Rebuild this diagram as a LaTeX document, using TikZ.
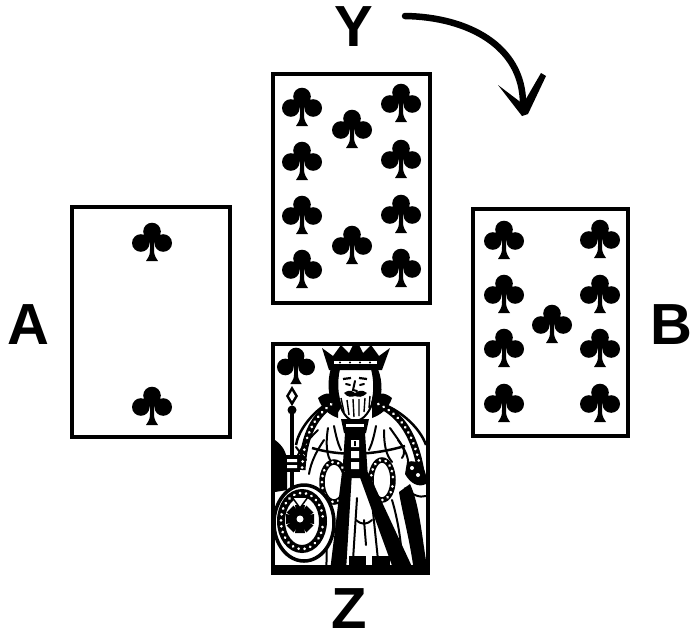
\documentclass[tikz,border=0pt]{standalone}
\usepackage{fontspec}
\setmainfont{Liberation Sans}
\usetikzlibrary{decorations.markings}
\tikzset{
  cardbox/.style={draw=black, line width=3.4pt, fill=white, inner sep=0pt, outer sep=0pt},
  letter/.style={font=\fontsize{58}{58}\selectfont\bfseries, inner sep=0pt},
  kline/.style={line width=2pt, line cap=round},
  arrowline/.style={line width=6.5pt, line cap=round},
  dotband/.style={line width=#1, postaction={decorate, decoration={markings, mark=between positions 0.03 and 0.97 step 6pt with {\fill[white] (0,0) circle (1.5pt);}}}},
  club/.pic={
    \fill (0,-10.5) circle (8.8pt) (-11.2,1) circle (8.8pt) (11.2,1) circle (8.8pt);
    \fill (-6,-4) -- (6,-4) -- (0,4) -- cycle;
    \fill (-2,1) -- (2,1) -- (2,7) .. controls (2.2,13) .. (6,19) -- (-6,19) .. controls (-2.2,13) .. (-2,7) -- cycle;
  }
}
\begin{document}
\begin{tikzpicture}[x=1pt,y=-1pt]
\useasboundingbox (0,0) rectangle (700,643);

% labels
\node[letter] (labA) at (28,325) {A};
\node[letter] (labB) at (671,325) {B};
\node[letter] (labY) at (354,27) {Y};
\node[letter] (labZ) at (349,609) {Z};

% cards
\node[cardbox, minimum width=158pt, minimum height=230pt] (cardA) at (151,322) {};
\node[cardbox, minimum width=157pt, minimum height=229pt] (cardY) at (351.5,188.5) {};
\node[cardbox, minimum width=155pt, minimum height=227pt] (cardB) at (550.5,322.5) {};
\node[cardbox, minimum width=155pt, minimum height=229pt] (cardZ) at (350.5,458.5) {};

% card A clubs
\pic at (152,242) {club};
\pic at (152,406) {club};

% card Y clubs
\pic at (302,107) {club};
\pic at (302,161) {club};
\pic at (302,215) {club};
\pic at (302,269) {club};
\pic at (401,103) {club};
\pic at (401,159) {club};
\pic at (401,214) {club};
\pic at (401,268) {club};
\pic at (352,129) {club};
\pic at (352,245) {club};

% card B clubs
\pic at (504,240) {club};
\pic at (504,294) {club};
\pic at (504,348) {club};
\pic at (504,403) {club};
\pic at (600,239) {club};
\pic at (600,294) {club};
\pic at (600,348) {club};
\pic at (600,403) {club};
\pic at (552,324) {club};

% curved arrow from Y towards B
\coordinate (arrS) at (405,16);
\coordinate (arrE) at (523,104);
\draw[arrowline] (arrS) .. controls (468,17) and (523,46) .. (arrE);
\fill (498,85) -- (523,104) -- (541,73) -- (546,76) -- (528,114) -- (522,116) -- cycle;

% ---------- King (card Z) ----------
\begin{scope}
\clip (275,346) rectangle (426,571);
% club index
\pic[scale=0.95] at (296,366) {club};
% scepter
\fill (292,386) -- (298,396) -- (292,406) -- (286,396) -- cycle;
\fill[white] (292,391) -- (295,396) -- (292,401) -- (289,396) -- cycle;
\fill (292,410) circle (4.5pt);
\draw[line width=3.5pt] (292,412) -- (292,490);
% dark cape behind head
\fill (318,398) .. controls (325,392) and (332,392) .. (338,398) -- (338,418) .. controls (330,415) and (322,410) .. (318,398) -- cycle;
\fill (392,398) .. controls (385,392) and (378,392) .. (372,398) -- (372,418) .. controls (380,415) and (388,410) .. (392,398) -- cycle;
% crown
\fill (322,348) -- (333,356) -- (341,345) -- (349,353) -- (356,339) -- (363,353) -- (371,345) -- (379,356) -- (390,348) -- (382,370) -- (329,370) -- cycle;
\fill[white] (334,361) rectangle (377,364);
\fill (340,362.5) circle (1.2pt) (350,362.5) circle (1.2pt) (360,362.5) circle (1.2pt) (370,362.5) circle (1.2pt);
% hair
\fill (331,368) .. controls (326,385) and (329,402) .. (337,414) -- (342,406) .. controls (338,396) and (337,382) .. (340,369) -- cycle;
\fill (378,369) .. controls (383,382) and (383,397) .. (376,410) -- (371,403) .. controls (374,393) and (374,381) .. (371,369) -- cycle;
% face
\draw[line width=2.2pt] (343,379) -- (351,378) (359,378) -- (367,379);
\draw[kline] (355,381) -- (353,390) -- (357,391);
\draw[kline] (346,384) -- (350,385) (360,385) -- (364,384);
\fill (344,393) .. controls (350,389) and (352,391) .. (355,393) .. controls (358,391) and (362,389) .. (367,393) .. controls (362,398) and (358,397) .. (355,396) .. controls (352,397) and (348,398) .. (344,393) -- cycle;
\draw[line width=1.4pt] (341,398) -- (344,412) (347,400) -- (349,415) (353,399) -- (354,417) (359,399) -- (359,416) (365,398) -- (364,412) (370,396) -- (369,408);
\draw[kline] (338,395) .. controls (340,412) and (348,421) .. (355,421) .. controls (363,421) and (372,411) .. (374,395);
% collar
\fill (341,419) -- (369,419) -- (366,433) -- (344,433) -- cycle;
\fill[white] (346,424) rectangle (364,427);
% cape trims
\draw[dotband=7pt] (333,403) .. controls (316,415) and (304,432) .. (302,470);
\draw[dotband=7pt] (376,403) .. controls (397,412) and (414,430) .. (421,472);
\draw[line width=2.5pt] (325,405) .. controls (310,415) and (298,432) .. (296,445);
\draw[line width=2.5pt] (385,405) .. controls (402,412) and (420,428) .. (426,445);
% sleeves and body outlines
\draw[kline] (318,430) .. controls (308,440) and (300,448) .. (297,458);
\draw[kline] (324,440) .. controls (316,452) and (311,462) .. (309,474);
\draw[kline] (328,428) .. controls (326,440) and (326,452) .. (330,460);
\draw[kline] (334,426) .. controls (336,436) and (338,444) .. (341,450);
\draw[kline] (296,447) -- (306,460);
\draw[kline] (390,428) .. controls (402,445) and (410,455) .. (408,468);
\draw[kline] (384,430) .. controls (384,445) and (386,455) .. (392,462);
\draw[kline] (376,426) .. controls (374,436) and (372,444) .. (369,450);
\draw[kline] (398,440) .. controls (404,448) and (406,452) .. (402,458);
\draw[line width=2.5pt] (312,448) .. controls (340,456) and (370,456) .. (405,446);
\fill (407,462) .. controls (420,458) and (428,470) .. (426,484) .. controls (418,488) and (410,483) .. (405,474) -- cycle;
\fill[white] (412,468) circle (2pt) (418,475) circle (2pt);
\fill (275,440) .. controls (282,445) and (287,452) .. (287,462) -- (287,490) -- (275,492) -- cycle;
\fill (283,455) rectangle (300,472);
\fill[white] (287,459) rectangle (297,462) (287,465) rectangle (297,468);
% central front stripe
\fill (345,433) -- (365,433) -- (368,478) -- (342,478) -- cycle;
\fill[white] (351,440) rectangle (359,447) (351,451) rectangle (359,458) (351,462) rectangle (359,469);
\fill (354,441) rectangle (356,446);
% medallions
\draw[dotband=5.5pt] (334,482) ellipse [x radius=12pt, y radius=20pt];
\draw[dotband=5.5pt] (382,480) ellipse [x radius=11pt, y radius=20pt];
% robe opening
\fill (342,472) -- (352,472) -- (346,571) -- (330,571) -- cycle;
\fill (358,472) -- (368,472) -- (414,571) -- (394,571) -- cycle;
% legs and shoes
\draw[kline] (357,498) -- (353,560) (372,502) -- (378,560) (364,520) -- (366,545);
\draw[kline] (356,520) .. controls (362,525) and (366,525) .. (372,520);
\fill (349,556) rectangle (366,571);
\fill (372,556) rectangle (390,571);
% right side dark folds
\fill (410,484) .. controls (420,505) and (422,540) .. (428,572) -- (414,572) .. controls (410,540) and (402,512) .. (399,492) -- cycle;
\draw[kline] (392,500) .. controls (398,520) and (402,545) .. (402,565);
\draw[kline] (405,488) .. controls (412,495) and (420,498) .. (426,496);
\draw[kline] (318,505) .. controls (326,530) and (328,550) .. (326,568);
% shield
\fill[white] (304,523) ellipse [x radius=30pt, y radius=38pt];
\draw[line width=3.5pt] (304,523) ellipse [x radius=30pt, y radius=38pt];
\draw[dotband=8pt] (302,521) ellipse [x radius=21pt, y radius=28pt];
\foreach \a in {0,45,...,315}
  \fill[shift={(300,519)}, rotate=\a] (0,-2.5) -- (14,-5) -- (14,5) -- (0,2.5) -- cycle;
\fill[white] (300,519) circle (3.5pt);
\fill[white] (292,497) -- (308,497) -- (300,508) -- cycle;
\draw[line width=1.5pt] (292,497) -- (308,497) -- (300,508) -- cycle;
% floor
\fill (275,565) rectangle (426,572);
\end{scope}
\draw[line width=4.5pt] (cardZ.north west) rectangle (cardZ.south east);
\end{tikzpicture}
\end{document}
